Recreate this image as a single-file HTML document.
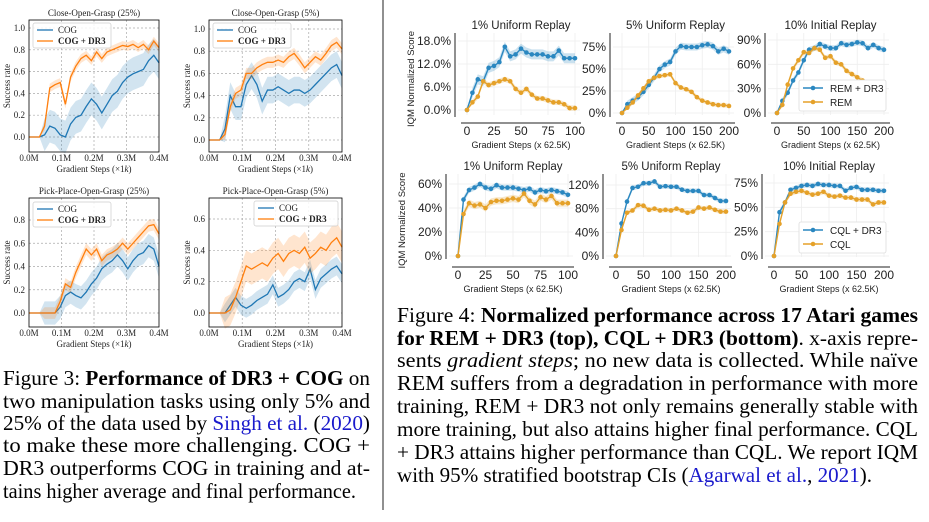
<!DOCTYPE html>
<html><head><meta charset="utf-8">
<style>
html,body{margin:0;padding:0;background:#fff;}
svg{display:block;}
.cap{font-family:"Liberation Serif",serif;font-size:21px;fill:#000;}
.lt{font-family:"Liberation Serif",serif;font-size:9px;fill:#222;}
.rt{font-family:"Liberation Sans",sans-serif;fill:#222;}
</style></head>
<body>
<svg id="fig" width="929" height="522" viewBox="0 0 929 522" xmlns="http://www.w3.org/2000/svg">
<line x1="383" y1="0" x2="383" y2="510" stroke="#222" stroke-width="1"/>
<g id="charts"></g>
<g>
<text class="cap" x="3" y="385" textLength="367" lengthAdjust="spacingAndGlyphs">Figure 3: <tspan font-weight="bold">Performance of DR3 + COG</tspan> on</text>
<text class="cap" x="3" y="408" textLength="367" lengthAdjust="spacingAndGlyphs">two manipulation tasks using only 5% and</text>
<text class="cap" x="3" y="430" textLength="367" lengthAdjust="spacingAndGlyphs">25% of the data used by <tspan fill="#1a1acc">Singh et al.</tspan> (<tspan fill="#1a1acc">2020</tspan>)</text>
<text class="cap" x="3" y="452" textLength="367" lengthAdjust="spacingAndGlyphs">to make these more challenging.  COG +</text>
<text class="cap" x="3" y="475" textLength="367" lengthAdjust="spacingAndGlyphs">DR3 outperforms COG in training and at-</text>
<text class="cap" x="3" y="498" textLength="353" lengthAdjust="spacingAndGlyphs">tains higher average and final performance.</text>
</g>
<g>
<text class="cap" x="397" y="322" textLength="521" lengthAdjust="spacingAndGlyphs">Figure 4: <tspan font-weight="bold">Normalized performance across 17 Atari games</tspan></text>
<text class="cap" x="397" y="345" textLength="521" lengthAdjust="spacingAndGlyphs"><tspan font-weight="bold">for REM + DR3 (top), CQL + DR3 (bottom)</tspan>. x-axis repre-</text>
<text class="cap" x="397" y="367" textLength="521" lengthAdjust="spacingAndGlyphs">sents <tspan font-style="italic">gradient steps</tspan>; no new data is collected.  While naïve</text>
<text class="cap" x="397" y="390" textLength="521" lengthAdjust="spacingAndGlyphs">REM suffers from a degradation in performance with more</text>
<text class="cap" x="397" y="413" textLength="521" lengthAdjust="spacingAndGlyphs">training, REM + DR3 not only remains generally stable with</text>
<text class="cap" x="397" y="436" textLength="521" lengthAdjust="spacingAndGlyphs">more training, but also attains higher final performance. CQL</text>
<text class="cap" x="397" y="459" textLength="521" lengthAdjust="spacingAndGlyphs">+ DR3 attains higher performance than CQL. We report IQM</text>
<text class="cap" x="397" y="482" textLength="475" lengthAdjust="spacingAndGlyphs">with 95% stratified bootstrap CIs (<tspan fill="#1a1acc">Agarwal et al.</tspan>, <tspan fill="#1a1acc">2021</tspan>).</text>
</g>
</svg>
<script>
// ---------- Figure 3 data (x = gradient steps in M, 26 samples 0..0.4) ----------
const cogX = [0,0.016,0.032,0.048,0.064,0.08,0.096,0.112,0.128,0.144,0.16,0.176,0.192,0.208,0.224,0.24,0.256,0.272,0.288,0.304,0.32,0.336,0.352,0.368,0.384,0.4];
const p1Cog = [0,0,0,0.02,0.1,0.08,0.02,0.0,0.12,0.18,0.2,0.28,0.35,0.3,0.22,0.3,0.38,0.42,0.5,0.55,0.58,0.6,0.62,0.7,0.75,0.68];
const p1Dr3 = [0,0,0,0.1,0.45,0.48,0.5,0.3,0.55,0.65,0.72,0.75,0.7,0.78,0.72,0.78,0.8,0.82,0.84,0.83,0.85,0.82,0.85,0.8,0.88,0.82];
const p2Cog = [0,0,0,0.1,0.4,0.3,0.3,0.5,0.58,0.5,0.35,0.45,0.45,0.48,0.45,0.42,0.45,0.45,0.42,0.45,0.5,0.55,0.6,0.65,0.68,0.58];
const p2Dr3 = [0,0,0,0.05,0.3,0.42,0.45,0.6,0.6,0.65,0.68,0.7,0.7,0.72,0.7,0.75,0.78,0.72,0.65,0.7,0.75,0.72,0.78,0.85,0.88,0.82];
const p3Cog = [0,0,0,0,0,0,0.05,0.15,0.18,0.15,0.13,0.18,0.25,0.3,0.38,0.42,0.45,0.5,0.45,0.38,0.45,0.5,0.52,0.58,0.55,0.4];
const p3Dr3 = [0,0,0,0,0,0,0.1,0.25,0.22,0.35,0.45,0.55,0.5,0.55,0.45,0.5,0.52,0.55,0.6,0.55,0.6,0.65,0.7,0.75,0.76,0.68];
const p4Cog = [0,0,0,0,0.05,0.1,0.05,0.03,0.05,0.08,0.1,0.12,0.18,0.1,0.12,0.15,0.2,0.22,0.2,0.28,0.15,0.22,0.25,0.28,0.3,0.25];
const p4Dr3 = [0,0,0,0,0.02,0.1,0.2,0.3,0.28,0.3,0.32,0.3,0.35,0.38,0.33,0.38,0.4,0.38,0.42,0.35,0.38,0.42,0.4,0.45,0.48,0.42];
const cogXTicks = ["0.0M","0.1M","0.2M","0.3M","0.4M"];
const cogXTickVals = [0,0.1,0.2,0.3,0.4];

// ---------- Figure 4 data ----------
const x100 = [0,5,10,15,20,25,30,35,40,45,50,55,60,65,70,75,80,85,90,95,100];
const x200 = [0,10,20,30,40,50,60,70,80,90,100,110,120,130,140,150,160,170,180,190,200];
const t1Dr3 = [0,4.5,8,7.5,11,11.5,12.5,16.5,14,14.5,16,15,14.5,14.5,14.5,14,14,15.5,13.5,13.5,13.5];
const t1Rem = [0,2,3.5,7.5,6.5,7,7.5,8,7.5,5.5,4.5,5.5,4,3,3,2.5,2,2,1.5,0.5,0.5];
const t2Dr3 = [0,10,14,18,24,32,40,50,55,58,70,76,75,75,75,77,78,76,70,73,70];
const t2Rem = [0,6,12,20,28,36,40,42,43,44,34,29,27,24,18,14,12,10,9,9,8];
const t3Dr3 = [0,15,25,40,50,65,78,80,85,82,80,80,86,84,85,87,86,80,84,80,78];
const t3Rem = [0,10,35,55,65,75,74,80,78,68,70,62,60,52,48,44,40,35,30,27,25];
const b1Dr3 = [0,47,55,57,60,57,56,59,57,57,57,56,55,56,53,55,54,55,54,53,51];
const b1Cql = [0,35,44,42,43,40,45,46,46,47,48,47,52,46,43,49,47,50,44,44,44];
const b2Dr3 = [0,55,92,115,117,123,123,126,117,118,117,117,112,110,110,110,103,103,98,93,93];
const b2Cql = [0,44,73,77,86,85,78,80,77,78,77,80,77,73,75,82,80,82,78,75,75];
const b3Dr3 = [0,45,55,68,70,72,73,72,74,73,73,72,72,67,70,71,68,68,68,67,67];
const b3Cql = [0,33,55,64,66,67,65,63,64,66,62,61,62,60,60,58,58,58,53,55,55];
const ticks100 = [0,25,50,75,100];
const ticks200 = [0,50,100,150,200];

const NS = "http://www.w3.org/2000/svg";
const root = document.getElementById('charts');
function mk(tag, attrs, parent){const e=document.createElementNS(NS,tag);for(const k in attrs)e.setAttribute(k,attrs[k]);(parent||root).appendChild(e);return e;}
function lin(d0,d1,r0,r1){return v=>r0+(v-d0)*(r1-r0)/(d1-d0);}

// ---------- left panels ----------
function leftPanel(cfg){
  const g=mk('g',{});
  
  
  const sx=lin(0,0.4,cfg.x0,cfg.x1), sy=lin(0,cfg.yv,cfg.yz,cfg.yp);
  cogXTickVals.forEach((v,i)=>{
    const x=sx(v);
    if(i>0&&i<4) mk('line',{x1:x,x2:x,y1:cfg.top,y2:cfg.bot,stroke:'#aaa','stroke-dasharray':'2,2','stroke-width':0.7},g);
    const t=mk('text',{x:x,y:cfg.bot+9,'text-anchor':'middle',class:'lt'},g);t.textContent=cogXTicks[i];
    
    
  });
  cfg.yt.forEach(v=>{
    const y=sy(v);
    mk('line',{x1:cfg.x0,x2:cfg.x1,y1:y,y2:y,stroke:'#aaa','stroke-dasharray':'2,2','stroke-width':0.7},g);
    const t=mk('text',{x:cfg.x0-4,y:y+3,'text-anchor':'end',class:'lt'},g);t.textContent=v.toFixed(1);
    
    
  });
  [[cfg.cog,'#1f77b4',cfg.cb],[cfg.dr3,'#ff7f0e',cfg.db]].forEach(([ys,c,bw])=>{
    let up='',lo='';
    cogX.forEach((x,i)=>{up+=(i?'L':'M')+sx(x)+','+sy(ys[i]+(i<3?0:bw));});
    for(let i=cogX.length-1;i>=0;i--) lo+='L'+sx(cogX[i])+','+sy(ys[i]-(i<3?0:bw));
    const band=mk('path',{d:up+lo+'Z',fill:c,'fill-opacity':0.2,stroke:'none'},g);
    
    
    const d=cogX.map((x,i)=>(i?'L':'M')+sx(x)+','+sy(ys[i])).join('');
    const ln=mk('path',{d:d,fill:'none',stroke:c,'stroke-width':1.3},g);
    
    
  });
  mk('rect',{x:cfg.x0,y:cfg.top,width:cfg.x1-cfg.x0,height:cfg.bot-cfg.top,fill:'none',stroke:'#000','stroke-width':0.8},g);
  const tt=mk('text',{x:(cfg.x0+cfg.x1)/2,y:cfg.top-4,'text-anchor':'middle',class:'lt','font-size':10.5},g);tt.textContent=cfg.title;
  
  
  const xl=mk('text',{x:(cfg.x0+cfg.x1)/2,y:cfg.bot+20,'text-anchor':'middle',class:'lt','font-size':8.5},g);xl.innerHTML='Gradient Steps (×1<tspan font-style="italic">k</tspan>)';
  
  
  const yl=mk('text',{x:0,y:0,transform:`translate(${cfg.x0-19},${(cfg.top+cfg.bot)/2}) rotate(-90)`,'text-anchor':'middle',class:'lt','font-size':8},g);yl.textContent='Success rate';
  
  
  const L=mk('g',{},g);
  
  
  mk('rect',{x:cfg.lx,y:cfg.ly,width:cfg.lw,height:25,fill:'#fff','fill-opacity':0.85,stroke:'#ccc','stroke-width':0.7,rx:2},L);
  mk('line',{x1:cfg.lx+4,x2:cfg.lx+20,y1:cfg.ly+7,y2:cfg.ly+7,stroke:'#1f77b4','stroke-width':1.3},L);
  mk('line',{x1:cfg.lx+4,x2:cfg.lx+20,y1:cfg.ly+18,y2:cfg.ly+18,stroke:'#ff7f0e','stroke-width':1.3},L);
  const a=mk('text',{x:cfg.lx+25,y:cfg.ly+10,class:'lt','font-size':8.5},L);a.textContent='COG';
  const b=mk('text',{x:cfg.lx+25,y:cfg.ly+21,class:'lt','font-size':8.5,'font-weight':'bold'},L);b.textContent='COG + DR3';
}
leftPanel({name:'close-open-grasp-25',title:'Close-Open-Grasp (25%)',x0:29,x1:159,top:20,bot:152,yz:137,yv:1.0,yp:28,yt:[0,0.2,0.4,0.6,0.8,1.0],cog:p1Cog,dr3:p1Dr3,cb:0.15,db:0.04,lx:33,ly:23,lw:78});
leftPanel({name:'close-open-grasp-5',title:'Close-Open-Grasp (5%)',x0:209,x1:342,top:20,bot:152,yz:140,yv:1.0,yp:29,yt:[0,0.2,0.4,0.6,0.8,1.0],cog:p2Cog,dr3:p2Dr3,cb:0.12,db:0.05,lx:213,ly:23,lw:78});
leftPanel({name:'pick-place-open-grasp-25',title:'Pick-Place-Open-Grasp (25%)',x0:29,x1:159,top:198,bot:327,yz:313,yv:0.8,yp:220,yt:[0,0.2,0.4,0.6,0.8],cog:p3Cog,dr3:p3Dr3,cb:0.1,db:0.05,lx:33,ly:202,lw:78});
leftPanel({name:'pick-place-open-grasp-5',title:'Pick-Place-Open-Grasp (5%)',x0:209,x1:342,top:198,bot:327,yz:313,yv:0.6,yp:219,yt:[0,0.2,0.4,0.6],cog:p4Cog,dr3:p4Dr3,cb:0.06,db:0.1,lx:254,ly:201,lw:84});

// ---------- right panels ----------
const BLUE='#2a87c0', ORG='#e5a129';
function rightPanel(cfg){
  const g=mk('g',{});
  
  
  const xmax=cfg.xs[cfg.xs.length-1];
  const sx=lin(0,xmax,cfg.xa,cfg.xb), sy=lin(0,cfg.yv,cfg.yz,cfg.yp);
  const xt=xmax===100?ticks100:ticks200;
  xt.forEach(v=>mk('line',{x1:sx(v),x2:sx(v),y1:cfg.top,y2:cfg.bot,stroke:'#eee','stroke-width':0.8},g));
  cfg.yt.forEach(v=>mk('line',{x1:cfg.ax+3,x2:sx(xmax)+5,y1:sy(v),y2:sy(v),stroke:'#eee','stroke-width':0.8},g));
  [[cfg.a,BLUE,cfg.ab],[cfg.b,ORG,cfg.bb]].forEach(([ys,c,bw])=>{
    let up='',lo='';
    cfg.xs.forEach((x,i)=>{up+=(i?'L':'M')+sx(x)+','+sy(ys[i]+(i?bw:0));});
    for(let i=cfg.xs.length-1;i>=0;i--) lo+='L'+sx(cfg.xs[i])+','+sy(ys[i]-(i?bw:0));
    const band=mk('path',{d:up+lo+'Z',fill:c,'fill-opacity':0.25,stroke:'none'},g);
    
    
    const ln=mk('path',{d:cfg.xs.map((x,i)=>(i?'L':'M')+sx(x)+','+sy(ys[i])).join(''),fill:'none',stroke:c,'stroke-width':1.4},g);
    
    
    cfg.xs.forEach((x,i)=>{
      const p=mk('circle',{cx:sx(x),cy:sy(ys[i]),r:2.3,fill:c},g);
      
      
    });
  });
  mk('line',{x1:cfg.ax,x2:cfg.ax,y1:cfg.top,y2:cfg.bot+2,stroke:'#222','stroke-width':1},g);
  mk('line',{x1:cfg.ax+6,x2:sx(xmax)+6,y1:cfg.xaxY,y2:cfg.xaxY,stroke:'#222','stroke-width':1},g);
  xt.forEach(v=>{const t=mk('text',{x:sx(v),y:cfg.xaxY+12,'text-anchor':'middle',class:'rt','font-size':12},g);t.textContent=v;
    
    });
  cfg.yt.forEach((v,i)=>{const t=mk('text',{x:cfg.ax-4,y:sy(v)+4,'text-anchor':'end',class:'rt','font-size':12},g);t.textContent=cfg.yl[i];
    
    });
  const tt=mk('text',{x:(cfg.xa+cfg.xb)/2,y:cfg.top-4,'text-anchor':'middle',class:'rt','font-size':11.5},g);tt.textContent=cfg.title;
  
  
  const xl=mk('text',{x:(cfg.xa+cfg.xb)/2,y:cfg.xaxY+25,'text-anchor':'middle',class:'rt','font-size':9},g);xl.textContent='Gradient Steps (x 62.5K)';
  
  
  if(cfg.ylab){const yl=mk('text',{x:0,y:0,transform:`translate(${cfg.ax-41},${(cfg.top+cfg.bot)/2+5}) rotate(-90)`,'text-anchor':'middle',class:'rt','font-size':9.5},g);yl.textContent='IQM Normalized Score';
    
    }
  if(cfg.leg){
    const L=mk('g',{},g);
    
    
    const lx=cfg.leg[0],ly=cfg.leg[1];
    mk('rect',{x:lx,y:ly,width:87,height:31,fill:'#fff',stroke:'#ddd','stroke-width':0.8,rx:2},L);
    [[BLUE,cfg.leg[2],8],[ORG,cfg.leg[3],22]].forEach(([c,lab,dy])=>{
      mk('line',{x1:lx+4,x2:lx+24,y1:ly+dy,y2:ly+dy,stroke:c,'stroke-width':1.4},L);
      mk('circle',{cx:lx+14,cy:ly+dy,r:2.3,fill:c},L);
      const t=mk('text',{x:lx+31,y:ly+dy+4,class:'rt','font-size':10},L);t.textContent=lab;
    });
  }
}
rightPanel({name:'rem-1pct-uniform',title:'1% Uniform Replay',xs:x100,a:t1Dr3,b:t1Rem,ab:1.3,bb:0.7,xa:467,xb:575,yz:110,yv:18,yp:41,yt:[0,6,12,18],yl:['0.0%','6.0%','12.0%','18.0%'],ax:455,top:33,bot:115,xaxY:123,ylab:true});
rightPanel({name:'rem-5pct-uniform',title:'5% Uniform Replay',xs:x200,a:t2Dr3,b:t2Rem,ab:4,bb:2.5,xa:622,xb:729,yz:113,yv:75,yp:47,yt:[0,25,50,75],yl:['0%','25%','50%','75%'],ax:610,top:33,bot:115,xaxY:123});
rightPanel({name:'rem-10pct-initial',title:'10% Initial Replay',xs:x200,a:t3Dr3,b:t3Rem,ab:3.5,bb:3,xa:777,xb:884,yz:113,yv:90,yp:40,yt:[0,30,60,90],yl:['0%','30%','60%','90%'],ax:765,top:33,bot:115,xaxY:123,leg:[799,80,'REM + DR3','REM']});
rightPanel({name:'cql-1pct-uniform',title:'1% Uniform Replay',xs:x100,a:b1Dr3,b:b1Cql,ab:2.5,bb:3,xa:458,xb:568,yz:256,yv:60,yp:184,yt:[0,20,40,60],yl:['0%','20%','40%','60%'],ax:446,top:174,bot:257,xaxY:267,ylab:true});
rightPanel({name:'cql-5pct-uniform',title:'5% Uniform Replay',xs:x200,a:b2Dr3,b:b2Cql,ab:4,bb:4,xa:616,xb:726,yz:256,yv:120,yp:185,yt:[0,40,80,120],yl:['0%','40%','80%','120%'],ax:603,top:174,bot:257,xaxY:267});
rightPanel({name:'cql-10pct-initial',title:'10% Initial Replay',xs:x200,a:b3Dr3,b:b3Cql,ab:2.5,bb:2.5,xa:774,xb:884,yz:256,yv:75,yp:183,yt:[0,25,50,75],yl:['0%','25%','50%','75%'],ax:762,top:174,bot:257,xaxY:267,leg:[799,222,'CQL + DR3','CQL']});
</script>
</body></html>
